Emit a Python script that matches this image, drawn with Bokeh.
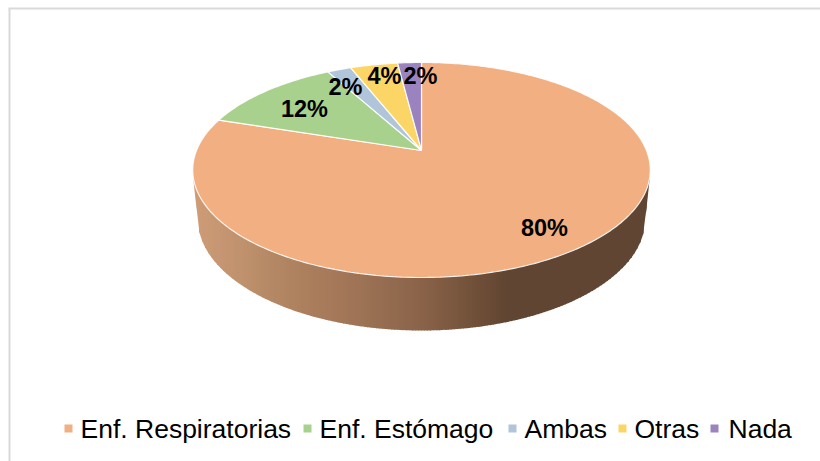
import numpy as np
from bokeh.plotting import figure
from bokeh.models import Range1d
from bokeh.core.properties import value
from bokeh.embed import file_html
from bokeh.resources import INLINE

categories = ["Enf. Respiratorias", "Enf. Estómago", "Ambas", "Otras", "Nada"]
shares = [80, 12, 2, 4, 2]
labels = ["80%", "12%", "2%", "4%", "2%"]
colors = ["#F2AF81", "#A9D18E", "#B0C4DA", "#FBD667", "#9A83BE"]

label_pos = [(544, 227), (304, 108), (345, 86), (384, 75), (420, 75)]
legend_swatch_x = [68, 307, 512, 622, 714]
legend_text_x = [80, 319, 524, 634, 728]

side_stop_x = [192, 250, 300, 360, 420, 480, 505, 650]
side_stop_c = [(207, 157, 120), (188, 143, 107), (173, 128, 94), (158, 115, 86),
               (138, 99, 73), (110, 78, 56), (96, 69, 50), (95, 70, 51)]

CX, AY, A, B, K = 421.0, 150.0, 225.0, 104.0, 0.181
RIM_CY, RIM_RX, RIM_RY = 169.5, 229.0, 107.5
LOW_CY, LOW_RX, LOW_RY = 218.0, 224.0, 112.0


def rim(t):
    u, v = np.sin(t), np.cos(t)
    w = 1 + K * v
    return CX + A * u / w, AY - B * v / w


p = figure(width=820, height=461, output_backend="svg", toolbar_location=None,
           x_range=Range1d(0, 820), y_range=Range1d(461, 0), min_border=0,
           outline_line_color=None, background_fill_color="white")
p.axis.visible = False
p.grid.visible = False

# chart frame
p.line([9, 9], [8, 461], line_color="#D9D9D9", line_width=2)
p.line([8, 820], [8, 8], line_color="#D9D9D9", line_width=2)

# side wall as vertical strips carrying the horizontal shading
edges = np.arange(192.5, 650.5, 3.0)
xs, ys, fills = [], [], []
for x0 in edges:
    x1 = min(x0 + 3.6, 649.5)
    col = []
    for x in (x0, x1):
        top = RIM_CY + RIM_RY * np.sqrt(max(0, 1 - ((x - CX) / RIM_RX) ** 2))
        dx = abs(x - CX)
        if dx < LOW_RX:
            bot = LOW_CY + LOW_RY * np.sqrt(1 - (dx / LOW_RX) ** 2)
        else:
            bot = max(top, LOW_CY - 10.3 * (dx - LOW_RX))
        col.append((top, bot))
    xs.append([x0, x1, x1, x0])
    ys.append([col[0][0] - 2, col[1][0] - 2, col[1][1], col[0][1]])
    rgb = [int(np.interp(x0, side_stop_x, [c[i] for c in side_stop_c])) for i in range(3)]
    fills.append("#%02x%02x%02x" % tuple(rgb))
p.patches(xs, ys, fill_color=fills, line_color=None)

# top face, clockwise from twelve o'clock
total = sum(shares)
angle = 0.0
wx, wy, wc = [], [], []
for i in range(len(shares)):
    a0 = angle
    angle += shares[i] / total * 2 * np.pi
    ts = np.linspace(a0, angle, max(3, int(shares[i] * 4)))
    rx, ry = rim(ts)
    wx.append([CX] + list(rx))
    wy.append([AY] + list(ry))
    wc.append(colors[i])
p.patches(wx, wy, fill_color=wc, line_color="white", line_width=1.2, line_alpha=0.9)

# data labels
p.text([q[0] for q in label_pos], [q[1] for q in label_pos], text=labels,
       text_font=value("Liberation Sans"), text_font_style="bold",
       text_font_size="23.5px", text_color="black",
       text_align="center", text_baseline="middle")

# legend
LEG_Y = 428
p.scatter(legend_swatch_x, [LEG_Y] * 5, marker="square", size=8,
          fill_color=colors, line_color=None)
p.text(legend_text_x, [LEG_Y] * 5, text=categories,
       text_font=value("Liberation Sans"), text_font_size="26.5px", text_color="black",
       text_align="left", text_baseline="middle")

open("out.html", "w").write(file_html(p, INLINE))
